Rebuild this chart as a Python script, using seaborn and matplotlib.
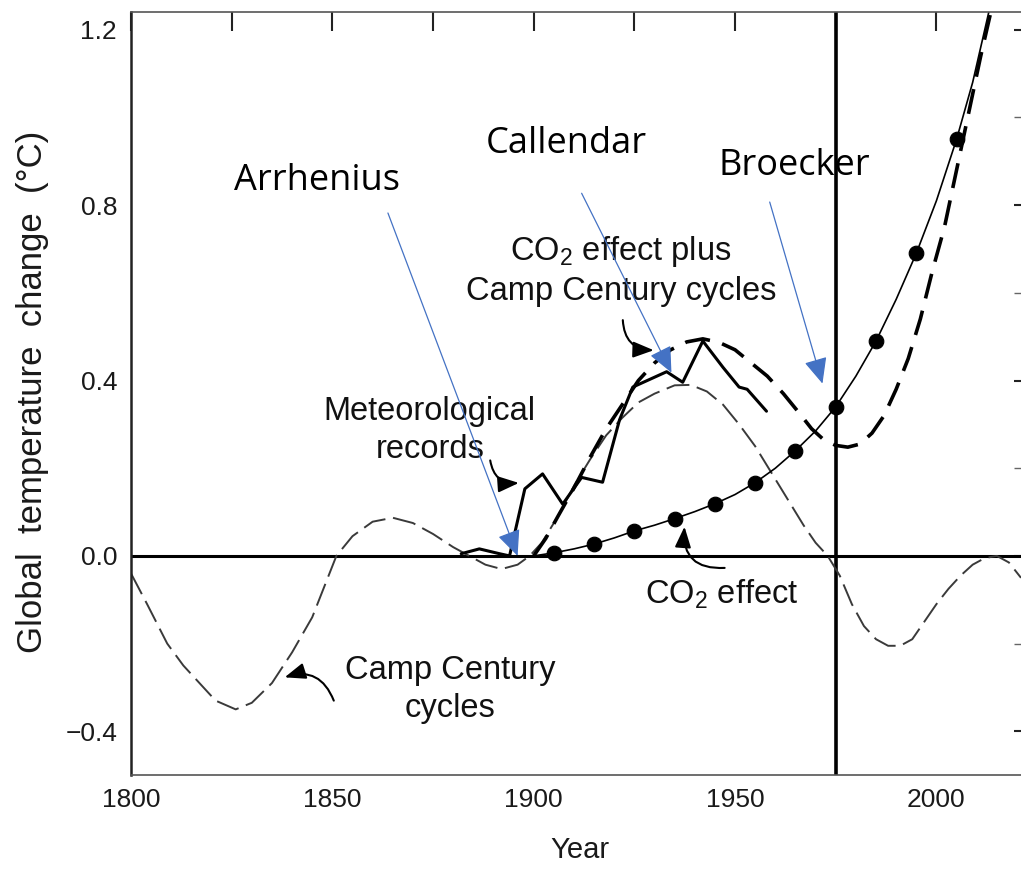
import matplotlib
matplotlib.use("Agg")
import matplotlib.pyplot as plt
import seaborn as sns

# ---------------- data ----------------
cycle_years = [1800, 1804, 1809, 1813, 1817, 1821, 1826, 1830, 1835, 1840, 1845, 1848,
               1851, 1855, 1860, 1865, 1870, 1875, 1880, 1884, 1888, 1892, 1896, 1899,
               1902, 1906, 1910, 1914, 1918, 1922, 1926, 1930, 1935, 1939, 1943, 1947,
               1951, 1955, 1959, 1963, 1967, 1970, 1973, 1976, 1979, 1982, 1985, 1988,
               1991, 1994, 1997, 2000, 2003, 2006, 2009, 2012, 2015, 2018, 2021]
cycle_vals = [-0.04, -0.11, -0.20, -0.25, -0.29, -0.33, -0.35, -0.335, -0.29, -0.22, -0.14, -0.07,
              0.00, 0.045, 0.078, 0.087, 0.075, 0.05, 0.02, 0.00, -0.02, -0.03, -0.02, 0.00,
              0.03, 0.09, 0.16, 0.22, 0.275, 0.315, 0.35, 0.37, 0.389, 0.39, 0.375, 0.345,
              0.30, 0.25, 0.19, 0.13, 0.07, 0.03, 0.00, -0.045, -0.11, -0.16, -0.19, -0.205,
              -0.205, -0.19, -0.15, -0.11, -0.075, -0.045, -0.02, -0.005, 0.00, -0.015, -0.05]

combo_years = [1900, 1903, 1906, 1910, 1914, 1918, 1922, 1926, 1930, 1934, 1938, 1942,
               1946, 1950, 1954, 1958, 1962, 1966, 1969, 1972, 1975, 1978, 1981, 1984,
               1987, 1990, 1993, 1996, 1999, 2002, 2005, 2008, 2011, 2013.5]
combo_vals = [0.00, 0.04, 0.09, 0.155, 0.225, 0.29, 0.345, 0.40, 0.44, 0.47, 0.488, 0.495,
              0.487, 0.47, 0.44, 0.41, 0.37, 0.325, 0.29, 0.265, 0.252, 0.248, 0.255, 0.28,
              0.32, 0.38, 0.45, 0.54, 0.65, 0.75, 0.88, 1.01, 1.14, 1.24]

met_years = [1882, 1886.5, 1891.5, 1894, 1897.8, 1902.2, 1907.2, 1911.9, 1917.1, 1921.3,
             1924.6, 1933, 1937, 1942, 1947, 1951, 1953, 1957.8]
met_vals = [0.005, 0.016, 0.005, 0.00, 0.153, 0.187, 0.118, 0.179, 0.168, 0.31,
            0.385, 0.42, 0.396, 0.49, 0.43, 0.385, 0.38, 0.33]

co2_years = [1900, 1905, 1910, 1915, 1920, 1925, 1930, 1935, 1940, 1945, 1950, 1955,
             1960, 1965, 1970, 1975, 1980, 1985, 1990, 1995, 2000, 2005, 2009, 2013]
co2_vals = [0.00, 0.007, 0.016, 0.027, 0.041, 0.057, 0.07, 0.085, 0.101, 0.119, 0.14, 0.167,
            0.20, 0.24, 0.285, 0.34, 0.41, 0.49, 0.585, 0.69, 0.81, 0.95, 1.08, 1.24]

dot_years = [1905, 1915, 1925, 1935, 1945, 1955, 1965, 1975, 1985, 1995, 2005]
dot_vals = [0.007, 0.027, 0.057, 0.085, 0.119, 0.167, 0.24, 0.34, 0.49, 0.69, 0.95]

x_ticks = [1800, 1850, 1900, 1950, 2000]
y_ticks = [-0.4, 0.0, 0.4, 0.8, 1.2]
y_tick_labels = ["\u22120.4", "0.0", "0.4", "0.8", "1.2"]

# ---------------- style ----------------
sns.set_theme(style="white")
plt.rcParams["font.family"] = ["Liberation Sans", "DejaVu Sans"]
plt.rcParams["mathtext.fontset"] = "custom"
plt.rcParams["mathtext.rm"] = "Liberation Sans"
plt.rcParams["mathtext.it"] = "Liberation Sans"

fig = plt.figure(figsize=(10.21, 8.69), dpi=100)
ax = fig.add_axes([0.1283, 0.108, 0.8717, 0.878])

# Camp Century cycles (thin dashed)
sns.lineplot(x=cycle_years, y=cycle_vals, ax=ax, color="#3a3a3a", linewidth=1.4,
             linestyle=(0, (12, 4)), errorbar=None)
# CO2 effect plus Camp Century cycles (thick dashed)
sns.lineplot(x=combo_years, y=combo_vals, ax=ax, color="black", linewidth=2.6,
             linestyle=(0, (7, 3.5)), errorbar=None)
# Meteorological records (solid)
sns.lineplot(x=met_years, y=met_vals, ax=ax, color="black", linewidth=2.2, errorbar=None)
# CO2 effect (thin solid + dots)
sns.lineplot(x=co2_years, y=co2_vals, ax=ax, color="black", linewidth=1.2, errorbar=None)
sns.scatterplot(x=dot_years, y=dot_vals, ax=ax, color="black", s=110,
                edgecolor="black", zorder=5)

ax.axhline(0, color="black", linewidth=2.2, zorder=1)
ax.axvline(1975, color="black", linewidth=2.6, zorder=1)

ax.set_xlim(1800, 2021)
ax.set_ylim(-0.5, 1.24)
ax.set_xticks(x_ticks)
ax.set_xticks([1825, 1875, 1925, 1975], minor=True)
ax.set_yticks(y_ticks)
ax.set_yticklabels(y_tick_labels)
ax.set_yticks([-0.2, 0.2, 0.6, 1.0], minor=True)
ax.tick_params(axis="both", which="both", direction="in", length=14, width=1.5,
               color="#222222", labelsize=19, labelcolor="#1a1a1a", top=True, right=True)
ax.tick_params(axis="x", which="both", pad=9)
ax.tick_params(axis="y", which="both", pad=10)
ax.tick_params(axis="y", which="minor", width=1.0, color="#666666")
ax.yaxis.set_tick_params(which="both", right=True)
for t in ax.yaxis.get_major_ticks() + ax.yaxis.get_minor_ticks():
    t.tick2line.set_markersize(5)
ax.set_xlabel("")
ax.set_ylabel("")

ax.spines["left"].set_color("#222222")
ax.spines["left"].set_linewidth(1.8)
for s in ["bottom", "top"]:
    ax.spines[s].set_color("#555555")
    ax.spines[s].set_linewidth(1.2)
ax.spines["right"].set_visible(False)

fig.text(33 / 1021, 1 - 392 / 869, "Global  temperature  change  (\u00b0C)", rotation=90,
         ha="center", va="center", fontsize=25, color="#1a1a1a")
fig.text(580 / 1021, 1 - 850 / 869, "Year", ha="center", va="center", fontsize=21,
         color="#1a1a1a")

# in-chart labels
lab = dict(ha="center", va="center", fontsize=23.5, color="#111111", linespacing=1.3)
ax.text(1921.6, 0.651, "CO$_2$ effect plus\nCamp Century cycles", **lab)
ax.text(1874.2, 0.286, "Meteorological\nrecords", **lab)
ax.text(1946.7, -0.087, "CO$_2$ effect", **lab)
ax.text(1879.2, -0.304, "Camp Century\ncycles", **lab)

# squiggle leaders
sq = dict(arrowstyle="-|>,head_length=0.9,head_width=0.35", color="black", lw=1.5,
          mutation_scale=14)
ax.annotate("", xy=(1897, 0.167), xytext=(1889.1, 0.224),
            arrowprops=dict(connectionstyle="arc3,rad=0.5", **sq))
ax.annotate("", xy=(1930.5, 0.469), xytext=(1922.1, 0.544),
            arrowprops=dict(connectionstyle="arc3,rad=0.5", **sq))
ax.annotate("", xy=(1937.5, 0.073), xytext=(1948.1, -0.027),
            arrowprops=dict(connectionstyle="arc3,rad=-0.6", **sq))
ax.annotate("", xy=(1837.5, -0.279), xytext=(1850.6, -0.336),
            arrowprops=dict(connectionstyle="arc3,rad=0.5", **sq))

# blue name annotations
blue = "#4472C4"
bl = dict(arrowstyle="-|>,head_length=1.0,head_width=0.45", color=blue, lw=0.9,
          mutation_scale=16, shrinkA=0, shrinkB=0)
name_font = dict(fontsize=26, family=["Open Sans", "DejaVu Sans"], color="black",
                 ha="center", va="center")
ax.annotate("", xy=(1896, 0.0), xytext=(1863.8, 0.782), arrowprops=bl)
ax.annotate("", xy=(1934.2, 0.418), xytext=(1911.9, 0.827), arrowprops=bl)
ax.annotate("", xy=(1971.7, 0.393), xytext=(1958.6, 0.807), arrowprops=bl)
ax.text(1846.3, 0.855, "Arrhenius", **name_font)
ax.text(1908.2, 0.94, "Callendar", **name_font)
ax.text(1964.8, 0.89, "Broecker", **name_font)

fig.savefig("out.png", dpi=100)
